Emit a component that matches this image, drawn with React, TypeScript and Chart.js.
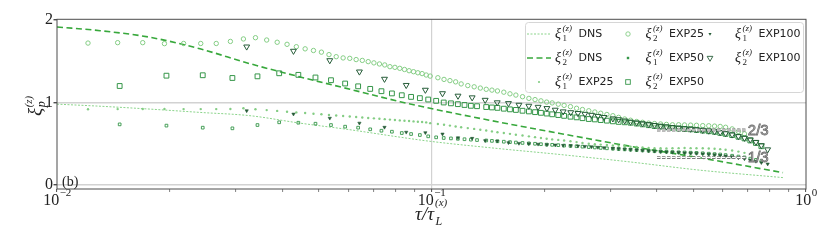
import React, { useEffect, useRef } from 'react';
import { Chart, registerables } from 'chart.js';

Chart.register(...registerables);

// ---------- DATA ----------
const dnsTau = [0.01, 0.01303, 0.01772, 0.02409, 0.03277, 0.04456, 0.06059, 0.0824, 0.0991, 0.1524, 0.2203, 0.3388, 0.5212, 0.8682];
const xi1DNS = [0.98, 0.955, 0.92, 0.88, 0.84, 0.75, 0.67, 0.58, 0.53, 0.44, 0.37, 0.28, 0.18, 0.09];
const xi2DNS = [1.915, 1.87, 1.79, 1.65, 1.47, 1.31, 1.16, 1.01, 0.93, 0.76, 0.625, 0.47, 0.33, 0.15];

const tau25 = [
  0.0121, 0.01452, 0.01694, 0.01936, 0.02178, 0.0242, 0.02662, 0.02904, 0.03146, 0.03388,
  0.0363, 0.03872, 0.04114, 0.04356, 0.04598, 0.0484, 0.05082, 0.05324, 0.05566, 0.05808,
  0.0605, 0.06292, 0.06534, 0.06776, 0.07018, 0.0726, 0.07502, 0.07744, 0.07986, 0.08228,
  0.0847, 0.08712, 0.08954, 0.09196, 0.09438, 0.0968, 0.0992,
  0.104, 0.108, 0.112, 0.116, 0.12, 0.125, 0.13, 0.135, 0.14, 0.145,
  0.15, 0.156, 0.162, 0.168, 0.175, 0.182, 0.189, 0.196, 0.203, 0.21,
  0.218, 0.226, 0.235, 0.244, 0.253, 0.263, 0.273, 0.283, 0.294, 0.305,
  0.316, 0.328, 0.34, 0.353, 0.366, 0.38, 0.394, 0.409, 0.424, 0.44,
  0.457, 0.474, 0.492, 0.51, 0.53, 0.55, 0.57, 0.59, 0.61, 0.635, 0.66, 0.685,
];
const xi1EXP25 = [
  0.918, 0.92, 0.922, 0.922, 0.92, 0.92, 0.92, 0.922, 0.93,
  0.919, 0.908, 0.898, 0.888, 0.88, 0.872, 0.864, 0.857, 0.85, 0.843,
  0.836, 0.83, 0.824, 0.818, 0.813, 0.808, 0.803, 0.798, 0.793, 0.788,
  0.783, 0.779, 0.775, 0.771, 0.766, 0.763, 0.759, 0.75,
  0.74, 0.73, 0.72, 0.71, 0.7, 0.69, 0.68, 0.67, 0.66, 0.65,
  0.64, 0.63, 0.62, 0.61, 0.6, 0.59, 0.58, 0.57, 0.56, 0.553,
  0.547, 0.54, 0.53, 0.52, 0.51, 0.5, 0.495, 0.49, 0.485, 0.48,
  0.475, 0.47, 0.465, 0.46, 0.455, 0.45, 0.447, 0.445, 0.444, 0.445,
  0.447, 0.448, 0.447, 0.446, 0.445, 0.443, 0.44, 0.435, 0.428, 0.418, 0.405, 0.39,
];
const xi2EXP25 = [
  1.72, 1.725, 1.725, 1.713, 1.715, 1.715, 1.715, 1.74, 1.77, 1.785,
  1.757, 1.73, 1.705, 1.676, 1.65, 1.63, 1.61, 1.58, 1.555, 1.54,
  1.535, 1.52, 1.51, 1.495, 1.48, 1.467, 1.455, 1.434, 1.426, 1.414,
  1.4, 1.385, 1.373, 1.36, 1.35, 1.333, 1.32,
  1.3, 1.28, 1.265, 1.25, 1.225, 1.205, 1.19, 1.175, 1.16, 1.15,
  1.14, 1.125, 1.105, 1.09, 1.07, 1.05, 1.035, 1.02, 1.005, 0.995,
  0.98, 0.965, 0.95, 0.93, 0.915, 0.9, 0.885, 0.87, 0.855, 0.84,
  0.82, 0.8, 0.785, 0.77, 0.76, 0.75, 0.745, 0.74, 0.735, 0.73,
  0.73, 0.728, 0.726, 0.724, 0.72, 0.718, 0.714, 0.71, 0.7, 0.68, 0.65, 0.62,
];

const tau50 = [
  0.0147, 0.0196, 0.0245, 0.0294, 0.0343, 0.0392, 0.0441, 0.049, 0.0539, 0.0588,
  0.0637, 0.0686, 0.0735, 0.0784, 0.0833, 0.0882, 0.0931, 0.098, 0.1029, 0.1078,
  0.1127, 0.1176, 0.1225, 0.1274, 0.1323,
  0.14, 0.145, 0.15, 0.156, 0.162, 0.168, 0.175, 0.182, 0.189, 0.196,
  0.203, 0.21, 0.218, 0.226, 0.235, 0.244, 0.253, 0.263, 0.273, 0.283,
  0.294, 0.305, 0.316, 0.328, 0.34, 0.353, 0.366, 0.38, 0.394, 0.409,
  0.424, 0.44, 0.457, 0.474, 0.492, 0.51, 0.53, 0.55, 0.57, 0.59,
  0.61, 0.635, 0.66, 0.685, 0.71, 0.735, 0.76,
];
const xi1EXP50 = [
  0.735, 0.72, 0.695, 0.687, 0.727, 0.76, 0.755, 0.743, 0.727, 0.707,
  0.695, 0.675, 0.658, 0.646, 0.63, 0.618, 0.606, 0.59, 0.578, 0.57,
  0.565, 0.56, 0.555, 0.55, 0.545,
  0.54, 0.535, 0.53, 0.525, 0.52, 0.515, 0.51, 0.505, 0.5, 0.495,
  0.49, 0.487, 0.483, 0.478, 0.474, 0.47, 0.465, 0.46, 0.455, 0.45,
  0.445, 0.44, 0.436, 0.432, 0.428, 0.424, 0.42, 0.415, 0.41, 0.407,
  0.404, 0.4, 0.397, 0.395, 0.392, 0.39, 0.385, 0.38, 0.375, 0.37,
  0.363, 0.355, 0.345, 0.335, 0.32, 0.305, 0.29,
];
const xi2EXP50 = [
  1.2, 1.325, 1.33, 1.297, 1.317, 1.354, 1.335, 1.303, 1.27, 1.23,
  1.196, 1.165, 1.137, 1.11, 1.088, 1.068, 1.053, 1.036, 1.02, 1.0,
  0.99, 0.98, 0.97, 0.96, 0.955,
  0.945, 0.94, 0.935, 0.925, 0.917, 0.91, 0.9, 0.892, 0.883, 0.875,
  0.866, 0.857, 0.848, 0.838, 0.828, 0.82, 0.81, 0.8, 0.795, 0.787,
  0.78, 0.772, 0.765, 0.76, 0.755, 0.745, 0.735, 0.725, 0.715, 0.707,
  0.7, 0.692, 0.685, 0.68, 0.675, 0.667, 0.66, 0.652, 0.645, 0.632,
  0.62, 0.605, 0.585, 0.565, 0.54, 0.51, 0.47,
];

const tau100 = [
  0.0321, 0.0428, 0.0535, 0.0642, 0.0749, 0.0856, 0.0963, 0.107, 0.1177, 0.1284,
  0.1391, 0.1498, 0.1605, 0.1712, 0.1819, 0.1926, 0.2033, 0.214, 0.2247, 0.2354,
  0.2461, 0.2568, 0.2675, 0.2782, 0.2889,
  0.305, 0.316, 0.328, 0.34, 0.353, 0.366, 0.38, 0.394, 0.409, 0.424,
  0.44, 0.457, 0.474, 0.492, 0.51, 0.53, 0.55, 0.57, 0.59, 0.61,
  0.635, 0.66, 0.685, 0.71, 0.735, 0.76, 0.79,
];
const xi1EXP100 = [
  0.9, 0.86, 0.81, 0.75, 0.7, 0.64, 0.634, 0.618, 0.573, 0.566,
  0.537, 0.533, 0.513, 0.505, 0.5, 0.495, 0.49, 0.485, 0.48, 0.477,
  0.473, 0.468, 0.463, 0.457, 0.452,
  0.445, 0.44, 0.435, 0.43, 0.425, 0.42, 0.415, 0.41, 0.405, 0.4,
  0.397, 0.394, 0.39, 0.387, 0.383, 0.378, 0.373, 0.367, 0.36, 0.352,
  0.342, 0.33, 0.318, 0.303, 0.288, 0.272, 0.255,
];
const xi2EXP100 = [
  1.676, 1.624, 1.51, 1.373, 1.285, 1.21, 1.152, 1.11, 1.08, 1.06,
  1.03, 1.0, 0.99, 0.97, 0.958, 0.945, 0.93, 0.91, 0.89, 0.88,
  0.87, 0.86, 0.848, 0.835, 0.822,
  0.805, 0.795, 0.78, 0.765, 0.755, 0.745, 0.735, 0.725, 0.715, 0.707,
  0.7, 0.692, 0.685, 0.68, 0.672, 0.665, 0.657, 0.648, 0.637, 0.625,
  0.61, 0.59, 0.57, 0.55, 0.52, 0.48, 0.43,
];

const refTau = [0.4, 0.695];
const ref23 = [2 / 3, 2 / 3];
const ref13 = [1 / 3, 1 / 3];
const refLabels = ['2/3', '1/3'];

const xMajorTicks = [0.01, 0.1, 1];
const xTickExps = ['−2', '−1', '0'];
const xMinorTicks = [0.02, 0.03, 0.04, 0.05, 0.06, 0.07, 0.08, 0.09, 0.2, 0.3, 0.4, 0.5, 0.6, 0.7, 0.8, 0.9];
const yTicks = [0, 1, 2];

// ---------- STYLE ----------
const cLight = '#84cd84';
const cDns1 = '#8bd48b';
const cDns2 = '#38a83c';
const cMid = '#369649';
const cDark = '#265c38';

const pts = (xs: number[], ys: number[]) =>
  xs.map((x, i) => ({ x, y: ys[i] })).filter((p) => p.y !== undefined);

function drawMarker(ctx: CanvasRenderingContext2D, kind: string, x: number, y: number) {
  ctx.save();
  ctx.lineWidth = 0.9;
  if (kind === 'dot25') {
    ctx.fillStyle = cLight;
    ctx.beginPath(); ctx.arc(x, y, 1.1, 0, Math.PI * 2); ctx.fill();
  } else if (kind === 'circ25') {
    ctx.strokeStyle = cLight;
    ctx.beginPath(); ctx.arc(x, y, 2.2, 0, Math.PI * 2); ctx.stroke();
  } else if (kind === 'sq50s') {
    ctx.fillStyle = cMid;
    ctx.fillRect(x - 1.2, y - 1.2, 2.4, 2.4);
  } else if (kind === 'sq50') {
    ctx.strokeStyle = cMid;
    ctx.strokeRect(x - 2.3, y - 2.3, 4.6, 4.6);
  } else if (kind === 'tri100s' || kind === 'tri100') {
    const r = kind === 'tri100' ? 3.3 : 1.8;
    ctx.beginPath();
    ctx.moveTo(x, y + r);
    ctx.lineTo(x - r * 0.866, y - r * 0.5);
    ctx.lineTo(x + r * 0.866, y - r * 0.5);
    ctx.closePath();
    if (kind === 'tri100') { ctx.strokeStyle = cDark; ctx.stroke(); }
    else { ctx.fillStyle = cDark; ctx.fill(); }
  }
  ctx.restore();
}

function drawXi(ctx: CanvasRenderingContext2D, x: number, base: number, sub: string, rest: string) {
  ctx.save();
  ctx.fillStyle = '#222';
  ctx.textAlign = 'left';
  ctx.textBaseline = 'alphabetic';
  ctx.font = 'italic 14px "Liberation Serif"';
  ctx.fillText('ξ', x, base + 1);
  ctx.font = 'italic 9px "Liberation Serif"';
  ctx.fillText('(z)', x + 7.5, base - 6);
  ctx.font = '9px "Liberation Serif"';
  ctx.fillText(sub, x + 7.5, base + 4.5);
  ctx.font = '11px "DejaVu Sans"';
  ctx.fillText(rest, x + 23.5, base);
  ctx.restore();
}

const legendItems = [
  { col: 0, row: 0, kind: 'dotted', sub: '1', text: 'DNS' },
  { col: 0, row: 1, kind: 'dashed', sub: '2', text: 'DNS' },
  { col: 0, row: 2, kind: 'dot25', sub: '1', text: 'EXP25' },
  { col: 1, row: 0, kind: 'circ25', sub: '2', text: 'EXP25' },
  { col: 1, row: 1, kind: 'sq50s', sub: '1', text: 'EXP50' },
  { col: 1, row: 2, kind: 'sq50', sub: '2', text: 'EXP50' },
  { col: 2, row: 0, kind: 'tri100s', sub: '1', text: 'EXP100' },
  { col: 2, row: 1, kind: 'tri100', sub: '2', text: 'EXP100' },
];

const decor = {
  id: 'decor',
  afterDraw(chart: any) {
    const ctx: CanvasRenderingContext2D = chart.ctx;
    const { left, right, top, bottom } = chart.chartArea;
    const xs = chart.scales.x;
    const ys = chart.scales.y;
    ctx.save();

    // reference labels (outlined grey text)
    ctx.font = '15px "Liberation Sans"';
    ctx.textAlign = 'left';
    ctx.textBaseline = 'middle';
    ctx.fillStyle = '#c4c4c4';
    ctx.strokeStyle = '#6e6e6e';
    ctx.lineWidth = 0.8;
    [ref23[1], ref13[1]].forEach((v, i) => {
      const px = xs.getPixelForValue(refTau[1]) + 1;
      const py = ys.getPixelForValue(v) + 0.5;
      ctx.fillText(refLabels[i], px, py);
      ctx.strokeText(refLabels[i], px, py);
    });

    // spines
    ctx.strokeStyle = '#4d4d4d';
    ctx.lineWidth = 1;
    ctx.strokeRect(left, top, right - left, bottom - top);

    // x tick labels
    ctx.fillStyle = '#222';
    ctx.textBaseline = 'alphabetic';
    ctx.textAlign = 'left';
    xMajorTicks.forEach((v, i) => {
      const px = xs.getPixelForValue(v);
      ctx.font = '16px "Liberation Serif"';
      const w1 = ctx.measureText('10').width;
      ctx.font = '11px "Liberation Serif"';
      const w2 = ctx.measureText(xTickExps[i]).width;
      const x0 = px - (w1 + w2) / 2;
      ctx.font = '16px "Liberation Serif"';
      ctx.fillText('10', x0, bottom + 15.5);
      ctx.font = '11px "Liberation Serif"';
      ctx.fillText(xTickExps[i], x0 + w1 + 0.5, bottom + 6.5);
    });

    // x title
    ctx.font = 'italic 19px "Liberation Serif"';
    const wt = ctx.measureText('τ/τ').width;
    const tx0 = 434 - wt;
    ctx.fillText('τ/τ', tx0, 220);
    ctx.font = 'italic 11px "Liberation Serif"';
    ctx.fillText('(x)', tx0 + wt + 1, 205.5);
    ctx.font = 'italic 12px "Liberation Serif"';
    ctx.fillText('L', tx0 + wt + 1.5, 225);

    // y title
    ctx.save();
    ctx.translate(41, 116);
    ctx.rotate(-Math.PI / 2);
    ctx.font = 'italic 19px "Liberation Serif"';
    ctx.fillText('ξ', 0, 0);
    const wx = ctx.measureText('ξ').width;
    ctx.font = 'italic 11px "Liberation Serif"';
    ctx.fillText('(z)', wx + 0.5, -9);
    ctx.font = 'italic 12px "Liberation Serif"';
    ctx.fillText('p', wx + 0.5, 4);
    ctx.restore();

    // panel label
    ctx.font = '14px "Liberation Serif"';
    ctx.fillText('(b)', left + 5, bottom - 3);

    // legend
    const lx0 = 525.5, ly0 = 22.5, lx1 = 803.5, ly1 = 92.5, rr = 3;
    ctx.beginPath();
    ctx.moveTo(lx0 + rr, ly0);
    ctx.lineTo(lx1 - rr, ly0); ctx.quadraticCurveTo(lx1, ly0, lx1, ly0 + rr);
    ctx.lineTo(lx1, ly1 - rr); ctx.quadraticCurveTo(lx1, ly1, lx1 - rr, ly1);
    ctx.lineTo(lx0 + rr, ly1); ctx.quadraticCurveTo(lx0, ly1, lx0, ly1 - rr);
    ctx.lineTo(lx0, ly0 + rr); ctx.quadraticCurveTo(lx0, ly0, lx0 + rr, ly0);
    ctx.closePath();
    ctx.fillStyle = 'rgba(255,255,255,0.8)';
    ctx.fill();
    ctx.strokeStyle = '#d6d6d6';
    ctx.lineWidth = 1;
    ctx.stroke();

    const colXi = [555, 645.5, 735];
    const colHandle = [539, 628, 710];
    const rowBase = [36.5, 60.5, 84.5];
    legendItems.forEach((it) => {
      const base = rowBase[it.row];
      const hy = base - 2.5;
      if (it.kind === 'dotted' || it.kind === 'dashed') {
        ctx.save();
        ctx.beginPath();
        ctx.moveTo(527, hy);
        ctx.lineTo(551, hy);
        if (it.kind === 'dotted') { ctx.strokeStyle = cDns1; ctx.lineWidth = 1; ctx.setLineDash([2, 1.5]); }
        else { ctx.strokeStyle = cDns2; ctx.lineWidth = 1.6; ctx.setLineDash([6, 3.5]); }
        ctx.stroke();
        ctx.restore();
      } else {
        drawMarker(ctx, it.kind, colHandle[it.col], hy);
      }
      drawXi(ctx, colXi[it.col], base, it.sub, it.text);
    });

    ctx.restore();
  },
};

export default function App() {
  const ref = useRef<HTMLCanvasElement | null>(null);
  useEffect(() => {
    if (!ref.current) return;
    const open = 'rgba(255,255,255,0)';
    const datasets: any[] = [
      { label: 'ref 2/3 outer', data: pts(refTau, ref23), showLine: true, pointRadius: 0, borderColor: '#7a7a7a', borderWidth: 2.8, borderDash: [3.5, 1.5], order: 1 },
      { label: 'ref 2/3 inner', data: pts(refTau, ref23), showLine: true, pointRadius: 0, borderColor: '#ffffff', borderWidth: 1, borderDash: [3.5, 1.5], order: 0 },
      { label: 'ref 1/3 outer', data: pts(refTau, ref13), showLine: true, pointRadius: 0, borderColor: '#7a7a7a', borderWidth: 2.8, borderDash: [3.5, 1.5], order: 1 },
      { label: 'ref 1/3 inner', data: pts(refTau, ref13), showLine: true, pointRadius: 0, borderColor: '#ffffff', borderWidth: 1, borderDash: [3.5, 1.5], order: 0 },
      { label: 'ξ2 EXP100', data: pts(tau100, xi2EXP100), showLine: false, pointStyle: 'triangle', pointRotation: 180, pointRadius: 3.4, pointBorderWidth: 1, borderColor: cDark, backgroundColor: open, pointBorderColor: cDark, pointBackgroundColor: open, order: 2 },
      { label: 'ξ1 EXP100', data: pts(tau100, xi1EXP100), showLine: false, pointStyle: 'triangle', pointRotation: 180, pointRadius: 1.9, pointBorderWidth: 0.6, borderColor: cDark, backgroundColor: cDark, pointBorderColor: cDark, pointBackgroundColor: cDark, order: 3 },
      { label: 'ξ2 EXP50', data: pts(tau50, xi2EXP50), showLine: false, pointStyle: 'rect', pointRadius: 3.4, pointBorderWidth: 1, borderColor: cMid, backgroundColor: open, pointBorderColor: cMid, pointBackgroundColor: open, order: 4 },
      { label: 'ξ1 EXP50', data: pts(tau50, xi1EXP50), showLine: false, pointStyle: 'rect', pointRadius: 1.9, pointBorderWidth: 0.9, borderColor: cMid, backgroundColor: open, pointBorderColor: cMid, pointBackgroundColor: open, order: 5 },
      { label: 'ξ2 EXP25', data: pts(tau25, xi2EXP25), showLine: false, pointStyle: 'circle', pointRadius: 2.2, pointBorderWidth: 1, borderColor: cLight, backgroundColor: open, pointBorderColor: cLight, pointBackgroundColor: open, order: 6 },
      { label: 'ξ1 EXP25', data: pts(tau25, xi1EXP25), showLine: false, pointStyle: 'circle', pointRadius: 1.2, pointBorderWidth: 0, borderColor: cLight, backgroundColor: cLight, pointBorderColor: cLight, pointBackgroundColor: cLight, order: 7 },
      { label: 'ξ2 DNS', data: pts(dnsTau, xi2DNS), showLine: true, pointRadius: 0, borderColor: cDns2, borderWidth: 1.6, borderDash: [6, 3.5], cubicInterpolationMode: 'monotone', fill: false, order: 8 },
      { label: 'ξ1 DNS', data: pts(dnsTau, xi1DNS), showLine: true, pointRadius: 0, borderColor: cDns1, borderWidth: 1, borderDash: [2, 1.5], cubicInterpolationMode: 'monotone', fill: false, order: 9 },
    ];

    const chart = new Chart(ref.current, {
      type: 'scatter',
      data: { datasets },
      options: {
        responsive: false,
        animation: false,
        devicePixelRatio: 1,
        events: [],
        layout: { padding: { left: 0, right: 24, top: 19.3, bottom: 0 } },
        plugins: { legend: { display: false }, tooltip: { enabled: false } },
        scales: {
          x: {
            type: 'logarithmic',
            min: 0.01,
            max: 1,
            afterFit: (s: any) => { s.height = 53; },
            afterBuildTicks: (s: any) => {
              s.ticks = [...xMajorTicks, ...xMinorTicks].sort((a, b) => a - b).map((v) => ({ value: v, major: xMajorTicks.includes(v) }));
            },
            ticks: { display: false, autoSkip: false },
            border: { display: false },
            grid: {
              drawTicks: true,
              tickLength: 3,
              color: (c: any) => (c.tick && c.tick.value === 0.1 ? '#d2d2d2' : 'rgba(0,0,0,0)'),
              tickColor: '#4d4d4d',
              tickWidth: (c: any) => (c.tick && xMajorTicks.includes(c.tick.value) ? 1 : 0.7),
              lineWidth: 1.2,
            },
          },
          y: {
            type: 'linear',
            min: -0.048,
            max: 2.008,
            afterFit: (s: any) => { s.width = 57; },
            afterBuildTicks: (s: any) => { s.ticks = yTicks.map((v) => ({ value: v })); },
            ticks: {
              color: '#222',
              padding: 0.5,
              font: { family: 'Liberation Serif', size: 16 },
              callback: (v: any) => String(v),
            },
            border: { display: false },
            grid: {
              drawTicks: true,
              tickLength: 3.5,
              color: (c: any) => (c.tick && (c.tick.value === 0 || c.tick.value === 1) ? '#d2d2d2' : 'rgba(0,0,0,0)'),
              tickColor: '#4d4d4d',
              lineWidth: 1.4,
            },
          },
        },
      },
      plugins: [decor],
    } as any);
    return () => chart.destroy();
  }, []);

  return (
    <div style={{ position: 'absolute', left: 0, top: 0, width: 830, height: 242, background: '#fff' }}>
      <canvas ref={ref} width={830} height={242} style={{ display: 'block', width: 830, height: 242 }} />
    </div>
  );
}
